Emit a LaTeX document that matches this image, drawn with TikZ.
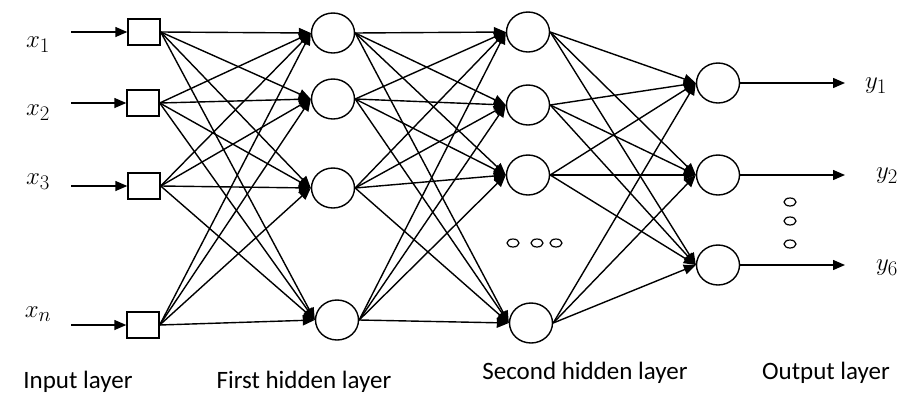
\documentclass[tikz,border=0pt]{standalone}
\usepackage{fontspec}
\setmainfont{Carlito}
\usetikzlibrary{arrows.meta,shapes.geometric}
\begin{document}
\begin{tikzpicture}[x=1pt,y=-1pt,
  conn/.style={line width=1.4pt,-{Triangle[length=12pt,width=10pt]}},
  inbox/.style={draw,line width=1.4pt,minimum width=32pt,minimum height=26pt,inner sep=0pt},
  neuron/.style={draw,ellipse,line width=1.4pt,minimum width=43pt,minimum height=40pt,inner sep=0pt},
  smalldot/.style={draw,ellipse,line width=1.2pt,minimum width=12pt,minimum height=8pt,inner sep=0pt},
  lbl/.style={font=\fontsize{25}{30}\selectfont},
  var/.style={font=\fontsize{28}{32}\selectfont}]
\useasboundingbox (0,0) rectangle (920,410);

% input layer
\node[inbox] (i1) at (144,32) {};
\node[inbox] (i2) at (143,103) {};
\node[inbox] (i3) at (144,186) {};
\node[inbox] (i4) at (143,325) {};

\coordinate (s1) at (71,32);
\coordinate (s2) at (71,103);
\coordinate (s3) at (71,186);
\coordinate (s4) at (71,325);

\node[var] (x1) at (38,45) {$x_1$};
\node[var] (x2) at (38,113) {$x_2$};
\node[var] (x3) at (38,182) {$x_3$};
\node[var] (xn) at (38,314) {$x_n$};

% first hidden layer
\node[neuron] (h1) at (333,33) {};
\node[neuron] (h2) at (333,99) {};
\node[neuron] (h3) at (333,188) {};
\node[neuron] (h4) at (337,320) {};

% second hidden layer
\node[neuron] (g1) at (528,32) {};
\node[neuron] (g2) at (528,105) {};
\node[neuron] (g3) at (528,175) {};
\node[neuron] (g4) at (531,323) {};

% output layer
\node[neuron] (o1) at (718,83) {};
\node[neuron] (o2) at (718,175) {};
\node[neuron] (o3) at (718,265) {};

\coordinate (e1) at (845,83);
\coordinate (e2) at (845,175);
\coordinate (e3) at (845,265);

\node[var] (y1) at (876,86) {$y_1$};
\node[var] (y2) at (887,176) {$y_2$};
\node[var] (y6) at (887,268) {$y_6$};

% ellipsis dots
\node[smalldot] (d1) at (513,243) {};
\node[smalldot] (d2) at (537,243) {};
\node[smalldot] (d3) at (556,243) {};
\node[smalldot] (v1) at (790,202) {};
\node[smalldot] (v2) at (790,221) {};
\node[smalldot] (v3) at (790,244) {};

% connectors
\foreach \k in {1,2,3,4} {
  \draw[conn] (s\k) -- (i\k.west);
}
\foreach \a in {1,2,3,4} {
  \foreach \b in {1,2,3,4} {
    \draw[conn] (i\a.east) -- (h\b.west);
    \draw[conn] (h\a.east) -- (g\b.west);
  }
  \foreach \b in {1,2,3} {
    \draw[conn] (g\a.east) -- (o\b.west);
  }
}
\foreach \k in {1,2,3} {
  \draw[conn] (o\k.east) -- (e\k);
}

% layer labels
\node[lbl] (l1) at (78,382) {Input layer};
\node[lbl] (l2) at (304,382) {First hidden layer};
\node[lbl] (l3) at (585,373) {Second hidden layer};
\node[lbl] (l4) at (826,373) {Output layer};
\end{tikzpicture}
\end{document}
